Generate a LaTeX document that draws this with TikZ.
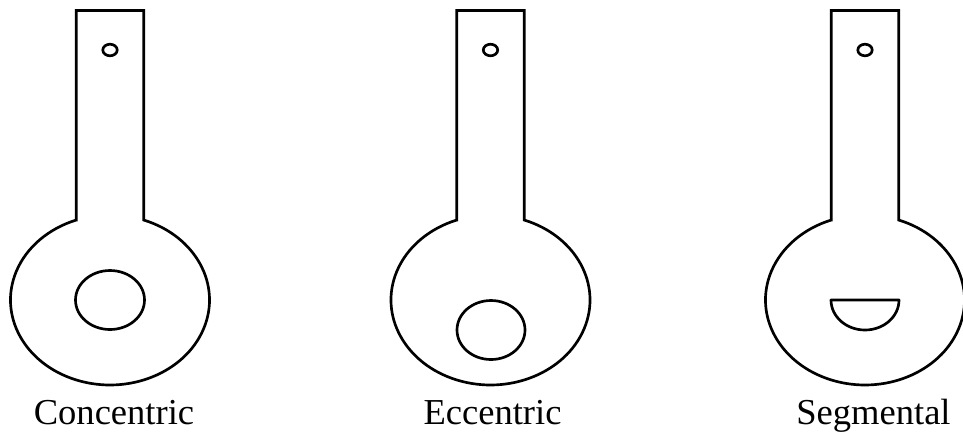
\documentclass[tikz,border=0pt]{standalone}
\usepackage{fontspec}
\setmainfont{Liberation Serif}
\tikzset{
  outline/.style={draw=black,line width=2pt,line join=miter,fill=none},
  caption/.style={font=\fontsize{27.4}{30}\selectfont,anchor=base,inner sep=0pt,text=black}
}
\newcommand{\keyshape}[1]{%
  \begin{scope}[shift={(#1,0)}]
    \draw[outline] (-33.7,-220) -- (-33.7,-10.5) -- (33.7,-10.5) -- (33.7,-220)
      arc[start angle=70.2,end angle=-250.2,x radius=99.5,y radius=85] -- cycle;
    \draw[outline] (0,-50) ellipse[x radius=7.2,y radius=5.8];
  \end{scope}}
\begin{document}
\begin{tikzpicture}[x=0.75pt,y=0.75pt]
\useasboundingbox (0,0) rectangle (963,-437);
\fill[white] (0,0) rectangle (963,-437);
\keyshape{110}
\keyshape{490.5}
\keyshape{865}
\draw[outline] (110,-300) ellipse[x radius=34.5,y radius=29.5];
\draw[outline] (491,-330) ellipse[x radius=34,y radius=29.5];
\draw[outline,line join=round] (831,-300) -- (899,-300) arc[start angle=0,end angle=-180,x radius=34,y radius=30] -- cycle;
\node[caption] (concentric) at (114,-424) {Concentric};
\node[caption] (eccentric) at (492.5,-424) {Eccentric};
\node[caption] (segmental) at (873.5,-424) {Segmental};
\end{tikzpicture}
\end{document}
